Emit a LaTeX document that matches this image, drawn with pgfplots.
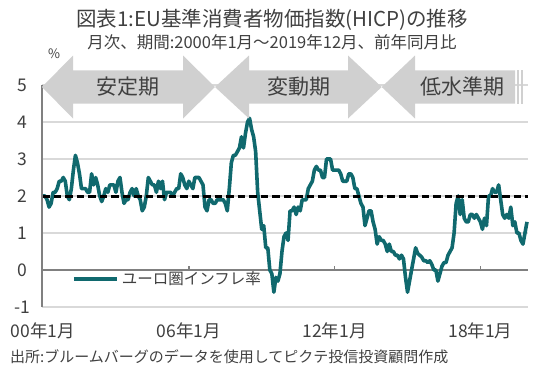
\documentclass[border=0pt]{standalone}
\usepackage{fontspec}
\setmainfont{Noto Sans CJK JP}
\usepackage{pgfplots}
\pgfplotsset{compat=1.18}
\definecolor{teal1}{RGB}{16,105,110}
\definecolor{txt}{RGB}{64,64,64}
\definecolor{arrowgray}{RGB}{208,208,208}
\definecolor{gridgray}{RGB}{217,217,217}
\definecolor{axgray}{RGB}{128,128,128}
\newcommand{\fs}[1]{\fontsize{#1}{#1}\selectfont}
\begin{document}
\begin{tikzpicture}[x=1bp,y=1bp]
\useasboundingbox (0,0) rectangle (550,381);
\begin{axis}[
  at={(42bp,74bp)}, anchor=south west,
  width=486bp, height=222bp, scale only axis,
  xmin=-0.5, xmax=239.5, ymin=-1, ymax=5,
  axis line style={draw=none},
  tick style={draw=none},
  ymajorgrids, grid style={gridgray, line width=1.5bp},
  ytick={-1,0,1,2,3,4,5}, yticklabels={-1,0,1,2,3,4,5},
  xtick={0,72,144,216}, xticklabels={00年1月,06年1月,12年1月,18年1月},
  yticklabel style={anchor=center, xshift=-20bp, font=\fs{17.5bp}, text=txt, inner sep=0pt},
  xticklabel style={anchor=center, yshift=-24bp, font=\fs{17.5bp}, text=txt, inner sep=0pt},
  legend style={at={(rel axis cs:0.0617,0.126)}, anchor=west, draw=none, fill=none,
    font=\fs{15.5bp}, text=txt, inner sep=0pt, nodes={inner sep=0pt}, column sep=3bp},
  legend image code/.code={\draw[#1] (0bp,0bp) -- (43bp,0bp);},
  clip=false,
]
\addplot[axgray, line width=2bp, forget plot] coordinates {(-0.5,0) (239.5,0)};
\addplot[axgray, line width=1.5bp, forget plot] coordinates {(72,0) (72,0.12)};
\addplot[axgray, line width=1.5bp, forget plot] coordinates {(144,0) (144,0.12)};
\addplot[axgray, line width=1.5bp, forget plot] coordinates {(216,0) (216,0.12)};
\addplot[teal1, line width=3.6bp, line join=round] coordinates {
(0,2.0) (1,2.0) (2,1.9) (3,1.7) (4,1.8) (5,2.1) (6,2.1) (7,2.2) (8,2.4) (9,2.4) (10,2.5) (11,2.4)
(12,2.0) (13,1.9) (14,2.2) (15,2.7) (16,3.1) (17,2.9) (18,2.6) (19,2.2) (20,2.2) (21,2.2) (22,2.1) (23,2.1)
(24,2.6) (25,2.3) (26,2.5) (27,2.3) (28,2.0) (29,1.85) (30,2.0) (31,2.2) (32,2.1) (33,2.3) (34,2.3) (35,2.3)
(36,2.1) (37,2.4) (38,2.5) (39,2.1) (40,1.8) (41,1.9) (42,1.9) (43,2.1) (44,2.2) (45,2.0) (46,2.2) (47,2.0)
(48,1.9) (49,1.6) (50,1.7) (51,2.0) (52,2.5) (53,2.4) (54,2.3) (55,2.3) (56,2.1) (57,2.4) (58,2.2) (59,2.4)
(60,1.9) (61,2.1) (62,2.1) (63,2.1) (64,2.0) (65,2.1) (66,2.2) (67,2.2) (68,2.6) (69,2.5) (70,2.3) (71,2.2)
(72,2.4) (73,2.3) (74,2.2) (75,2.5) (76,2.5) (77,2.5) (78,2.4) (79,2.3) (80,1.7) (81,1.6) (82,1.9) (83,1.9)
(84,1.8) (85,1.8) (86,1.9) (87,1.9) (88,1.9) (89,1.9) (90,1.8) (91,1.6) (92,2.2) (93,2.9) (94,3.1) (95,3.1)
(96,3.2) (97,3.3) (98,3.6) (99,3.3) (100,3.7) (101,4.0) (102,4.1) (103,3.8) (104,3.6) (105,3.2) (106,2.1) (107,1.6)
(108,1.1) (109,1.2) (110,0.6) (111,0.6) (112,0.0) (113,-0.1) (114,-0.6) (115,-0.2) (116,-0.3) (117,-0.1) (118,0.5) (119,0.9)
(120,1.0) (121,0.8) (122,1.6) (123,1.6) (124,1.7) (125,1.5) (126,1.7) (127,1.6) (128,1.9) (129,1.9) (130,1.9) (131,2.2)
(132,2.3) (133,2.4) (134,2.7) (135,2.8) (136,2.7) (137,2.7) (138,2.5) (139,2.5) (140,3.0) (141,3.0) (142,3.0) (143,2.7)
(144,2.7) (145,2.7) (146,2.7) (147,2.6) (148,2.4) (149,2.4) (150,2.4) (151,2.6) (152,2.6) (153,2.5) (154,2.2) (155,2.2)
(156,2.0) (157,1.8) (158,1.7) (159,1.2) (160,1.4) (161,1.6) (162,1.6) (163,1.3) (164,1.1) (165,0.7) (166,0.9) (167,0.8)
(168,0.8) (169,0.7) (170,0.5) (171,0.7) (172,0.5) (173,0.5) (174,0.4) (175,0.4) (176,0.3) (177,0.4) (178,0.3) (179,-0.2)
(180,-0.6) (181,-0.3) (182,0.0) (183,0.3) (184,0.6) (185,0.45) (186,0.4) (187,0.35) (188,0.25) (189,0.25) (190,0.2) (191,0.25)
(192,0.15) (193,0.0) (194,0.0) (195,-0.3) (196,-0.1) (197,0.1) (198,0.2) (199,0.2) (200,0.4) (201,0.5) (202,0.6) (203,1.0)
(204,1.8) (205,2.0) (206,1.5) (207,1.9) (208,1.4) (209,1.3) (210,1.3) (211,1.5) (212,1.5) (213,1.4) (214,1.5) (215,1.4)
(216,1.3) (217,1.1) (218,1.4) (219,1.2) (220,2.0) (221,2.0) (222,2.2) (223,2.1) (224,2.1) (225,2.3) (226,1.9) (227,1.5)
(228,1.4) (229,1.5) (230,1.4) (231,1.7) (232,1.2) (233,1.3) (234,1.0) (235,1.0) (236,0.8) (237,0.7) (238,1.0) (239,1.3)
};
\addlegendentry{ユーロ圏インフレ率}
\addplot[black, line width=3bp, dash pattern=on 7.5bp off 4bp, forget plot] coordinates {(-0.5,2) (239.5,2)};
\draw[axgray, line width=2bp] (axis cs:-0.5,-1) -- (axis cs:-0.5,5);
\end{axis}
% period arrows
\fill[arrowgray] (42,294) -- (73,325.5) -- (73,310.7) -- (183,310.7) -- (183,325.5) -- (215,294) -- (183,262.5) -- (183,277.3) -- (73,277.3) -- (73,262.5) -- cycle;
\fill[arrowgray] (215,294) -- (249,325.5) -- (249,310.7) -- (348,310.7) -- (348,325.5) -- (381.7,294) -- (348,262.5) -- (348,277.3) -- (249,277.3) -- (249,262.5) -- cycle;
\fill[arrowgray] (381.7,294) -- (415,325.5) -- (415,310.7) -- (515,310.7) -- (515,277.3) -- (415,277.3) -- (415,262.5) -- cycle;
\fill[arrowgray] (516.7,277.3) rectangle (519.3,310.7);
\fill[arrowgray] (521,277.3) rectangle (522.7,310.7);
\node[font=\fs{21bp}, text=txt] at (127.5,294) {安定期};
\node[font=\fs{21bp}, text=txt] at (299,294) {変動期};
\node[font=\fs{21bp}, text=txt] at (462.5,294) {低水準期};
% titles
\node[font=\fs{20.5bp}, text=txt] at (272,361) {図表1:EU基準消費者物価指数(HICP)の推移};
\node[font=\fs{16.5bp}, text=txt] at (272,339) {月次、期間:2000年1月～2019年12月、前年同月比};
\node[font=\fs{13bp}, text=txt] at (54,327) {\%};
\node[font=\fs{15bp}, text=txt, anchor=west, inner sep=0pt] at (10,24) {出所:ブルームバーグのデータを使用してピクテ投信投資顧問作成};
\end{tikzpicture}
\end{document}
